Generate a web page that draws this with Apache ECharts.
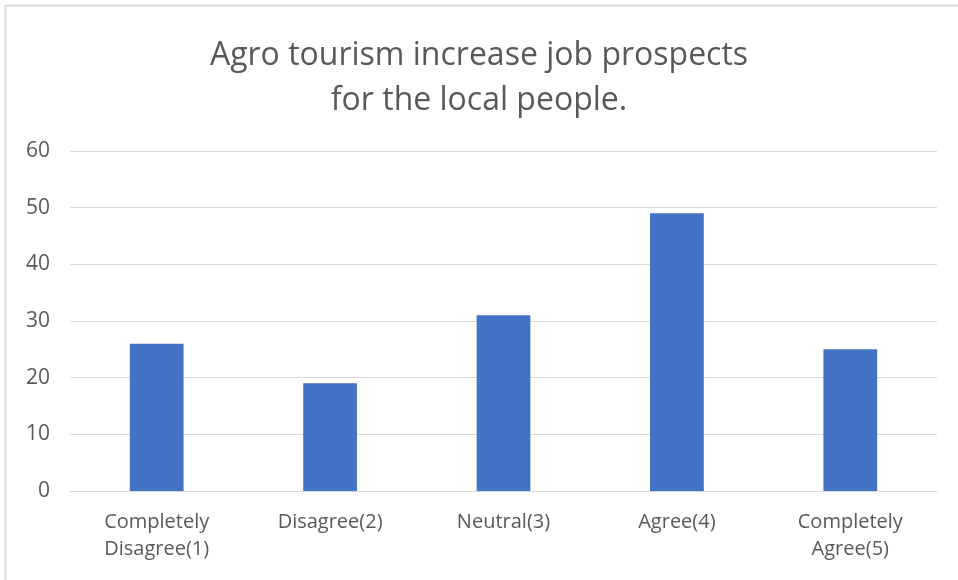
<!DOCTYPE html>
<html>
<head>
<meta charset="utf-8">
<script src="https://cdn.jsdelivr.net/npm/echarts@6/dist/echarts.min.js"></script>
<style>
  html, body { margin: 0; padding: 0; background: #ffffff; }
  #chart { width: 958px; height: 580px; }
</style>
</head>
<body>
<div id="chart"></div>
<script>
// Survey responses: agro tourism and local job prospects
const titleText = 'Agro tourism increase job prospects\nfor the local people.';
const categories = ['Completely\nDisagree(1)', 'Disagree(2)', 'Neutral(3)', 'Agree(4)', 'Completely\nAgree(5)'];
const responses = [26, 19, 31, 49, 25];
const yMin = 0;
const yMax = 60;
const yStep = 10;

const textColor = '#595959';
const gridColor = '#d9d9d9';
const barColor = '#4472c4';
const fontFamily = '"Open Sans", "Noto Sans", sans-serif';

const chart = echarts.init(document.getElementById('chart'), null, { renderer: 'canvas' });

chart.setOption({
  animation: false,
  backgroundColor: '#ffffff',
  textStyle: { fontFamily: fontFamily },
  graphic: [{
    type: 'rect',
    shape: { x: 5.5, y: 5.5, width: 1000, height: 1000 },
    style: { fill: 'none', stroke: gridColor, lineWidth: 2 },
    silent: true
  }],
  title: {
    text: titleText,
    left: 'center',
    top: 28,
    textStyle: {
      fontFamily: fontFamily,
      fontSize: 32,
      fontWeight: 'normal',
      color: textColor,
      lineHeight: 45
    }
  },
  grid: {
    left: 70,
    right: 21,
    top: 151,
    bottom: 89,
    containLabel: false
  },
  xAxis: {
    type: 'category',
    data: categories,
    axisLine: { lineStyle: { color: gridColor, width: 1 } },
    axisTick: { show: false },
    axisLabel: {
      color: textColor,
      fontSize: 20,
      lineHeight: 27,
      margin: 18,
      interval: 0
    }
  },
  yAxis: {
    type: 'value',
    min: yMin,
    max: yMax,
    interval: yStep,
    axisLine: { show: false },
    axisTick: { show: false },
    axisLabel: {
      color: textColor,
      fontSize: 21,
      margin: 20
    },
    splitLine: { lineStyle: { color: gridColor, width: 1 } }
  },
  series: [{
    type: 'bar',
    data: responses,
    barWidth: '31%',
    itemStyle: { color: barColor }
  }]
});
</script>
</body>
</html>
